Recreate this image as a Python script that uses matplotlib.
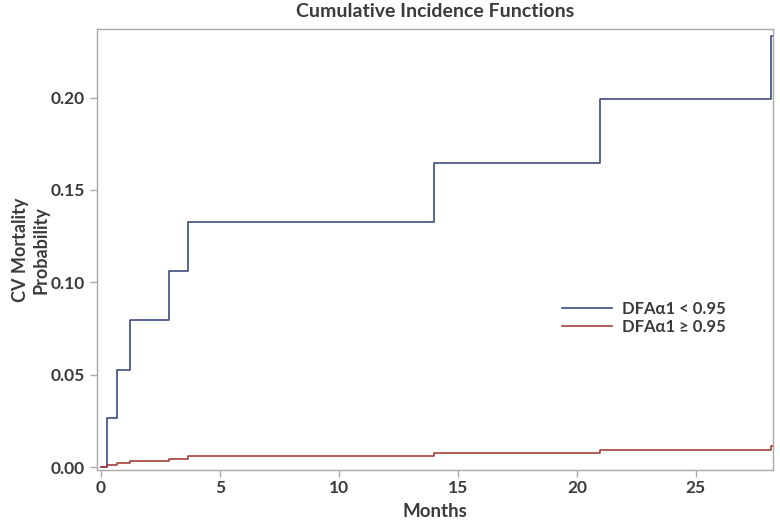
import matplotlib
matplotlib.use('Agg')
import matplotlib.pyplot as plt

# step times (months) and cumulative incidence for the two groups
months = [0, 0.24, 0.66, 1.23, 2.84, 3.66, 14.0, 20.98, 28.15]
cif_low = [0, 0.0267, 0.0527, 0.0795, 0.106, 0.1327, 0.1648, 0.1995, 0.2335]
cif_high = [0, 0.0013, 0.0021, 0.0032, 0.0045, 0.0060, 0.0074, 0.0094, 0.0112]
end_month = 28.24

labels = ['DFA\u03b11 < 0.95', 'DFA\u03b11 \u2265 0.95']
colors = ['#3d4a80', '#a3413b']
text_color = '#3b3b3b'

plt.rcParams['font.family'] = ['Lato', 'DejaVu Sans']
plt.rcParams['font.weight'] = 'bold'

fig = plt.figure(figsize=(7.8, 5.22), dpi=100)
ax = fig.add_axes([0.1244, 0.0996, 0.8666, 0.8443])

for y, c, lab in zip([cif_low, cif_high], colors, labels):
    ax.step(months + [end_month], y + [y[-1]], where='post', color=c, linewidth=1.2, label=lab)

ax.set_xlim(-0.17, end_month)
ax.set_ylim(-0.0016, 0.237)
ax.set_xticks([0, 5, 10, 15, 20, 25])
ax.set_yticks([0.0, 0.05, 0.10, 0.15, 0.20])
ax.set_yticklabels(['0.00', '0.05', '0.10', '0.15', '0.20'])

for s in ax.spines.values():
    s.set_color('#a8a8a8')
    s.set_linewidth(1.0)
ax.tick_params(axis='both', colors='#a8a8a8', labelcolor=text_color, labelsize=12.5, length=5, width=1)
ax.tick_params(axis='x', pad=2)

ax.set_title('Cumulative Incidence Functions', fontsize=14, fontweight='bold', color=text_color, pad=9)
ax.set_xlabel('Months', fontsize=13.5, fontweight='bold', color=text_color, va='top')
ax.xaxis.set_label_coords(0.5, -0.074)
ax.set_ylabel('CV Mortality\nProbability', fontsize=13, fontweight='bold', color=text_color)
ax.yaxis.set_label_coords(-0.071, 0.5)

leg = ax.legend(loc='center left', bbox_to_anchor=(0.665, 0.345), frameon=False,
                fontsize=12, handlelength=3.0, handletextpad=0.6, labelspacing=0.15)
for t in leg.get_texts():
    t.set_color(text_color)

fig.savefig('out.png', dpi=100)
